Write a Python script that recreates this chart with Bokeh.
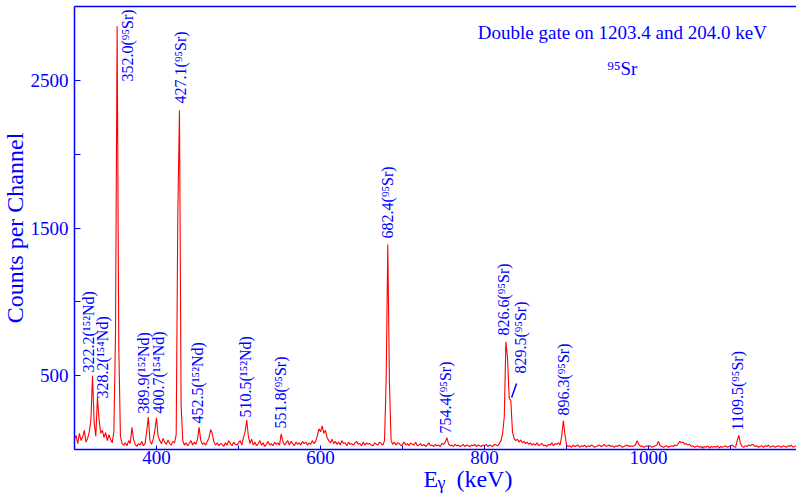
import numpy as np
from bokeh.plotting import figure
from bokeh.models import Range1d, FixedTicker, LinearAxis, ColumnDataSource
from bokeh.core.properties import value
from bokeh.embed import file_html
from bokeh.resources import INLINE

# ---- spectrum: channel calibration (keV) and counts per channel ----
e_start = 300.0
e_step = 2.0

counts_300_398 = [
    70, 95, 40, 110, 60, 85, 130, 50, 75, 120,
    200, 500, 180, 90, 355, 200, 110, 130, 80, 115,
    60, 100, 70, 45, 120, 770, 2870, 700, 90, 40,
    30, 45, 25, 60, 40, 150, 70, 35, 20, 40,
    30, 55, 25, 40, 120, 220, 60, 35, 70, 130,
]
counts_400_498 = [
    215, 90, 60, 40, 75, 50, 35, 65, 40, 30,
    55, 45, 100, 1600, 2300, 300, 60, 30, 45, 25,
    40, 60, 30, 50, 35, 70, 150, 60, 35, 45,
    30, 55, 80, 135, 110, 50, 30, 45, 25, 40,
    35, 20, 45, 30, 60, 40, 25, 50, 35, 30,
]
counts_500_598 = [
    45, 60, 30, 80, 120, 200, 90, 40, 70, 30,
    50, 25, 40, 60, 30, 45, 20, 35, 55, 30,
    40, 25, 50, 35, 45, 30, 105, 55, 30, 45,
    60, 30, 55, 40, 25, 50, 35, 45, 30, 55,
    40, 50, 30, 45, 35, 60, 40, 55, 90, 140,
]
counts_600_698 = [
    120, 160, 110, 130, 80, 60, 45, 70, 40, 55,
    35, 50, 30, 60, 40, 45, 25, 50, 35, 40,
    30, 45, 55, 35, 40, 25, 50, 30, 45, 35,
    40, 30, 25, 45, 35, 30, 50, 40, 30, 60,
    470, 1390, 450, 60, 35, 50, 30, 45, 40, 25,
]
counts_700_798 = [
    35, 50, 30, 40, 25, 45, 35, 30, 50, 25,
    30, 40, 25, 35, 20, 30, 45, 25, 30, 20,
    35, 25, 30, 20, 40, 35, 50, 80, 40, 25,
    30, 20, 35, 25, 30, 20, 25, 35, 20, 30,
    25, 20, 30, 25, 35, 20, 30, 25, 20, 30,
]
counts_800_898 = [
    25, 35, 20, 30, 25, 20, 35, 30, 25, 40,
    60, 110, 220, 730, 620, 350, 330, 120, 75, 60,
    70, 50, 65, 45, 55, 40, 50, 35, 45, 30,
    40, 30, 45, 25, 35, 40, 25, 30, 20, 35,
    30, 45, 25, 40, 35, 45, 30, 90, 195, 100,
]
counts_900_998 = [
    30, 20, 25, 15, 30, 20, 25, 30, 15, 25,
    20, 30, 15, 25, 20, 30, 25, 15, 20, 25,
    30, 20, 25, 35, 20, 25, 30, 20, 25, 15,
    25, 20, 30, 25, 15, 20, 25, 30, 20, 25,
    20, 25, 30, 60, 35, 20, 25, 15, 20, 25,
]
counts_1000_1098 = [
    20, 25, 15, 20, 25, 30, 55, 25, 20, 15,
    20, 25, 15, 20, 25, 20, 30, 25, 40, 55,
    45, 50, 35, 40, 30, 35, 20, 25, 15, 20,
    25, 15, 20, 10, 20, 15, 25, 10, 20, 15,
    20, 15, 25, 10, 20, 15, 20, 25, 15, 20,
]
counts_1100_1188 = [
    25, 30, 20, 15, 60, 95, 40, 20, 15, 25,
    20, 30, 25, 35, 30, 20, 25, 15, 20, 25,
    15, 25, 20, 30, 15, 20, 25, 15, 20, 25,
    20, 15, 25, 20, 15, 25, 20, 30, 15, 20,
    25, 15, 20, 25, 15,
]

counts = (counts_300_398 + counts_400_498 + counts_500_598 + counts_600_698
          + counts_700_798 + counts_800_898 + counts_900_998 + counts_1000_1098
          + counts_1100_1188)
energy = e_start + e_step * np.arange(len(counts))

# ---- peak labels ----
peak_texts = ["322.2(¹⁵²Nd)", "328.2(¹⁵⁴Nd)", "352.0(⁹⁵Sr)", "389.9(¹⁵²Nd)",
              "400.7(¹⁵⁴Nd)", "427.1(⁹⁵Sr)", "452.5(¹⁵²Nd)", "510.5(¹⁵²Nd)",
              "551.8(⁹⁵Sr)", "682.4(⁹⁵Sr)", "754.4(⁹⁵Sr)", "826.6(⁹⁵Sr)",
              "829.5(⁹⁵Sr)", "896.3(⁹⁵Sr)", "1109.5(⁹⁵Sr)"]
label_x = [317, 334, 364.6, 384, 402, 429, 450, 508.5,
           551, 681.7, 752, 823, 844, 896, 1108.5]
label_y = [522, 346, 2495, 244, 244, 2346, 176, 217,
           142, 1431, 108, 773, 515, 230, 129]

leader_x0 = [833]
leader_y0 = [353]
leader_x1 = [839]
leader_y1 = [447]

# ---- other texts (anchored at their vertical middle) ----
title_texts = ["Double gate on 1203.4 and 204.0 keV", "⁹⁵Sr"]
title_x = [968, 968]
title_y = [2824, 2580]

xlabel_big = ["E", "(keV)"]
xlabel_big_x = [725.5, 765.7]
xlabel_big_y = [-203, -203]
xlabel_sub = ["γ"]
xlabel_sub_x = [742.6]
xlabel_sub_y = [-230]

y_ticks = [500, 1500, 2500]
y_minor = [1000, 2000]
x_ticks = [400, 600, 800, 1000]
x_minor = [300, 500, 700, 900, 1100]

# drawn box of the axes and the visible window around it
X_MIN, X_MAX = 300.0, 1180.3
Y_MIN, Y_MAX = 0.0, 3003.0

BLUE = "#0000ff"
RED = "#ff0000"
SERIF = "Liberation Serif"

p = figure(width=796, height=495, output_backend="svg", toolbar_location=None,
           x_range=Range1d(209.8, 1180.3), y_range=Range1d(-312, 3044),
           min_border=0, x_axis_location=None, y_axis_location=None)
p.outline_line_color = None
p.grid.visible = False
p.background_fill_color = "white"
p.border_fill_color = "white"

# left axis (drawn at 300 keV)
ya = LinearAxis(ticker=FixedTicker(ticks=y_ticks, minor_ticks=y_minor),
                fixed_location=X_MIN, bounds=(Y_MIN, Y_MAX))
ya.axis_label = "Counts per Channel"
ya.axis_label_text_font = SERIF
ya.axis_label_text_font_size = "24px"
ya.axis_label_text_font_style = "normal"
ya.axis_label_text_color = BLUE
ya.axis_label_standoff = 0
ya.major_label_text_font = SERIF
ya.major_label_text_font_size = "19px"
ya.major_label_text_color = BLUE
ya.major_label_standoff = 6
ya.axis_line_color = BLUE
ya.axis_line_width = 1.5
ya.major_tick_line_color = BLUE
ya.minor_tick_line_color = BLUE
ya.major_tick_in = 6
ya.major_tick_out = 0
ya.minor_tick_in = 6
ya.minor_tick_out = 0
p.add_layout(ya, "left")

# bottom axis (drawn at 0 counts)
xa = LinearAxis(ticker=FixedTicker(ticks=x_ticks, minor_ticks=x_minor),
                fixed_location=Y_MIN, bounds=(X_MIN, X_MAX))
xa.major_label_text_font = SERIF
xa.major_label_text_font_size = "19px"
xa.major_label_text_color = BLUE
xa.major_label_standoff = 2
xa.axis_line_color = BLUE
xa.axis_line_width = 1.5
xa.major_tick_line_color = BLUE
xa.minor_tick_line_color = BLUE
xa.major_tick_in = 4
xa.major_tick_out = 0
xa.minor_tick_in = 4
xa.minor_tick_out = 0
p.add_layout(xa, "below")

# top frame line
ta = LinearAxis(ticker=FixedTicker(ticks=[]), fixed_location=Y_MAX, bounds=(X_MIN, X_MAX))
ta.axis_line_color = BLUE
ta.axis_line_width = 1.5
ta.major_tick_line_color = None
ta.minor_tick_line_color = None
p.add_layout(ta, "above")

# spectrum
p.line(energy, counts, line_color=RED, line_width=1.1)

# peak labels
src = ColumnDataSource(dict(x=label_x, y=label_y, text=peak_texts))
p.text(x="x", y="y", text="text", source=src, angle=np.pi / 2,
       text_align="left", text_baseline="middle",
       text_font=value(SERIF), text_font_size=value("16px"), text_color=BLUE)
p.segment(x0=leader_x0, y0=leader_y0, x1=leader_x1, y1=leader_y1,
          line_color=BLUE, line_width=1.5)

# title lines
p.text(x=title_x, y=title_y, text=title_texts, text_align="center",
       text_baseline="middle", text_font=value(SERIF),
       text_font_size=value("19px"), text_color=BLUE)

# x axis title E_gamma (keV)
p.text(x=xlabel_big_x, y=xlabel_big_y, text=xlabel_big, text_align="left",
       text_baseline="middle", text_font=value(SERIF),
       text_font_size=value("24px"), text_color=BLUE)
p.text(x=xlabel_sub_x, y=xlabel_sub_y, text=xlabel_sub, text_align="left",
       text_baseline="middle", text_font=value(SERIF),
       text_font_size=value("18px"), text_color=BLUE)

open("out.html", "w").write(file_html(p, INLINE))
